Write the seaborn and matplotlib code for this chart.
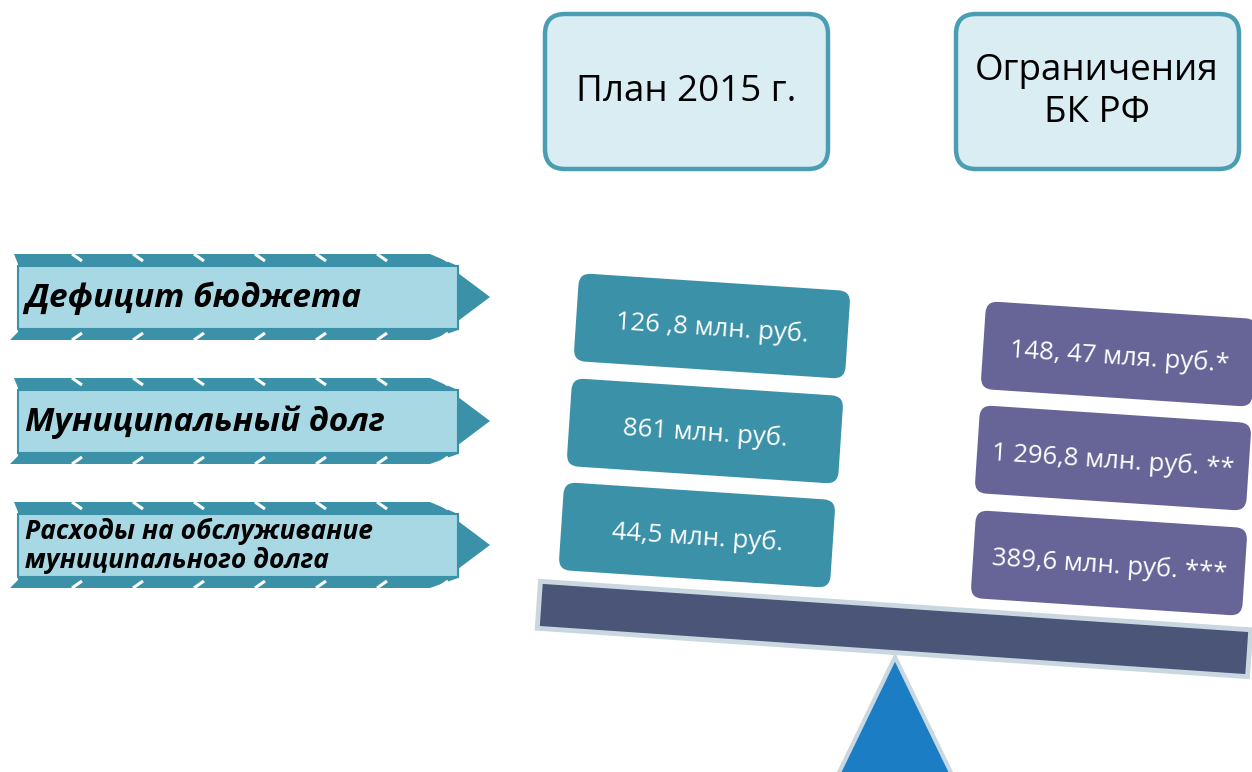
"""Balance diagram: plan 2015 vs Budget Code limits."""

import matplotlib.pyplot as plt
import seaborn as sns
from matplotlib.patches import FancyBboxPatch, Polygon, Rectangle
from matplotlib.transforms import Affine2D

# texts / values
headers = ['План 2015 г.', 'Ограничения\nБК РФ']
indicators = ['Дефицит бюджета', 'Муниципальный долг',
              'Расходы на обслуживание\nмуниципального долга']
indicator_sizes = [24, 24, 19]
plan_2015 = ['126 ,8 млн. руб.', '861 млн. руб.', '44,5 млн. руб.']
bk_limits = ['148, 47 мля. руб.*', '1 296,8 млн. руб. **', '389,6 млн. руб. ***']

# colours
TEAL = '#3b91a8'
LIGHT_TEAL = '#a8d8e3'
HEAD_FILL = '#d9edf2'
HEAD_EDGE = '#4a9db2'
PURPLE = '#676598'
BEAM = '#4a5578'
BEAM_EDGE = '#c9d8e0'
PIVOT = '#1b7dc4'

sns.set_theme(style='white')
plt.rcParams['font.family'] = ['Open Sans', 'DejaVu Sans']

fig = plt.figure(figsize=(12.52, 7.72), dpi=100)
ax = fig.add_axes([0, 0, 1, 1])
ax.set_xlim(0, 1252)
ax.set_ylim(772, 0)
ax.axis('off')

# header boxes
head_x = [543, 954]
for x0, txt in zip(head_x, headers):
    ax.add_patch(FancyBboxPatch((x0 + 2, 14), 283, 155,
                                boxstyle='round,pad=0,rounding_size=20',
                                fc=HEAD_FILL, ec=HEAD_EDGE, lw=3.2))
    ax.text(x0 + 143, 92, txt, ha='center', va='center', fontsize=26.5,
            linespacing=1.25, color='black')

# left arrows with indicator names
row_y = [297, 421, 545]


def draw_arrow(yc, label, fs):
    outer = [(14, yc - 43), (430, yc - 43), (458, yc - 31), (458, yc - 24),
             (490, yc), (458, yc + 24), (458, yc + 33), (430, yc + 43),
             (10, yc + 43), (18, yc + 35), (18, yc - 33)]
    ax.add_patch(Polygon(outer, closed=True, fc=TEAL, ec='none'))
    ax.add_patch(Rectangle((18, yc - 31), 440, 63, fc=LIGHT_TEAL,
                           ec=TEAL, lw=1.5))
    for sx in range(72, 440, 61):
        ax.plot([sx, sx + 10], [yc - 43, yc - 36], color='white', lw=2.2,
                solid_capstyle='butt')
        ax.plot([sx, sx + 10], [yc + 43, yc + 36], color='white', lw=2.2,
                solid_capstyle='butt')
    ax.text(25, yc + 1, label, ha='left', va='center', fontsize=fs,
            fontweight='bold', fontstyle='italic', color='black',
            linespacing=1.1)


for yc, label, fs in zip(row_y, indicators, indicator_sizes):
    draw_arrow(yc, label, fs)

# tilted value boxes
ANGLE = 3.8
BOX_W, BOX_H = 272, 88
plan_centres = [(712, 326), (705, 431), (697, 535)]
limit_centres = [(1119, 354), (1113, 458), (1109, 563)]


def value_box(cx, cy, txt, colour):
    rot = Affine2D().rotate_deg_around(cx, cy, ANGLE) + ax.transData
    ax.add_patch(FancyBboxPatch((cx - BOX_W / 2, cy - BOX_H / 2), BOX_W, BOX_H,
                                boxstyle='round,pad=0,rounding_size=12',
                                fc=colour, ec='none', transform=rot))
    ax.text(cx, cy + 3, txt, ha='center', va='center', fontsize=18.5,
            color='white', rotation=-ANGLE, rotation_mode='anchor')


for (cx, cy), txt in zip(plan_centres, plan_2015):
    value_box(cx, cy, txt, TEAL)
for (cx, cy), txt in zip(limit_centres, bk_limits):
    value_box(cx, cy, txt, PURPLE)

# beam of the scales
bx, by, bw, bh = 894, 629, 712, 47
beam_rot = Affine2D().rotate_deg_around(bx, by, 3.9) + ax.transData
ax.add_patch(Rectangle((bx - bw / 2, by - bh / 2), bw, bh, fc=BEAM,
                       ec=BEAM_EDGE, lw=3.5, transform=beam_rot))

# pivot
ax.add_patch(Polygon([(895, 657), (833, 785), (957, 785)], closed=True,
                     fc=PIVOT, ec=BEAM_EDGE, lw=3, joinstyle='miter'))

plt.savefig('out.png', dpi=100)
